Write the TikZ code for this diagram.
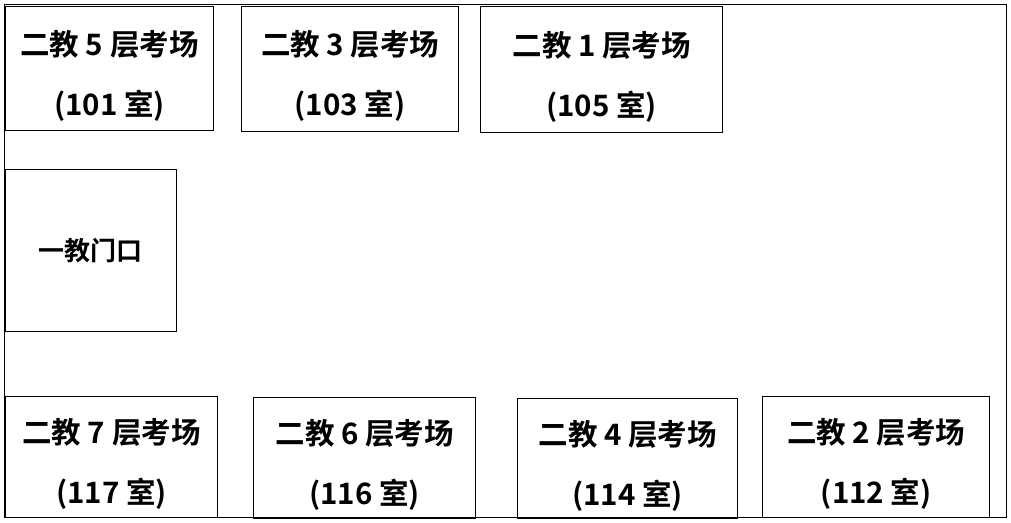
\documentclass[tikz,border=0pt]{standalone}
\usepackage{fontspec}
\newfontfamily\cjkfont{Noto Sans CJK SC}[BoldFont={* Bold}]
\usetikzlibrary{positioning}

\tikzset{
  room/.style={draw,line width=1.4pt,anchor=north west,inner sep=0pt},
  roomtext/.style={align=center,font=\cjkfont\bfseries\fontsize{29.5}{60}\selectfont}
}

\begin{document}
\begin{tikzpicture}[x=1pt,y=-1pt]
\useasboundingbox (0,0) rectangle (1011,522);
\draw[line width=1.4pt] (4.5,4.5) rectangle (1006.5,517.5);
% upper row
\node[room,minimum width=208.5pt,minimum height=124pt] (f5) at (4.5,6) {};
\node[room,minimum width=217pt,minimum height=125pt] (f3) at (241,6) {};
\node[room,minimum width=242pt,minimum height=126pt] (f1) at (480,6) {};
\node[roomtext] at ([yshift=-7pt]f5.center) {二教 5 层考场\\(101 室)};
\node[roomtext] at ([yshift=-7pt]f3.center) {二教 3 层考场\\(103 室)};
\node[roomtext] at ([yshift=-7pt]f1.center) {二教 1 层考场\\(105 室)};
% gate
\node[room,minimum width=171.5pt,minimum height=162pt] (gate) at (4.5,168.5) {};
\node[font=\cjkfont\bfseries\fontsize{26}{30}\selectfont] at (gate.center) {一教门口};
% lower row
\node[room,minimum width=212.5pt,minimum height=121pt] (f7) at (4.5,396) {};
\node[room,minimum width=222pt,minimum height=121pt] (f6) at (253,397) {};
\node[room,minimum width=220pt,minimum height=120pt] (f4) at (517,398) {};
\node[room,minimum width=227pt,minimum height=121pt] (f2) at (762,396) {};
\node[roomtext] at ([yshift=-7pt]f7.center) {二教 7 层考场\\(117 室)};
\node[roomtext] at ([yshift=-7pt]f6.center) {二教 6 层考场\\(116 室)};
\node[roomtext] at ([yshift=-7pt]f4.center) {二教 4 层考场\\(114 室)};
\node[roomtext] at ([yshift=-7pt]f2.center) {二教 2 层考场\\(112 室)};
\end{tikzpicture}
\end{document}
